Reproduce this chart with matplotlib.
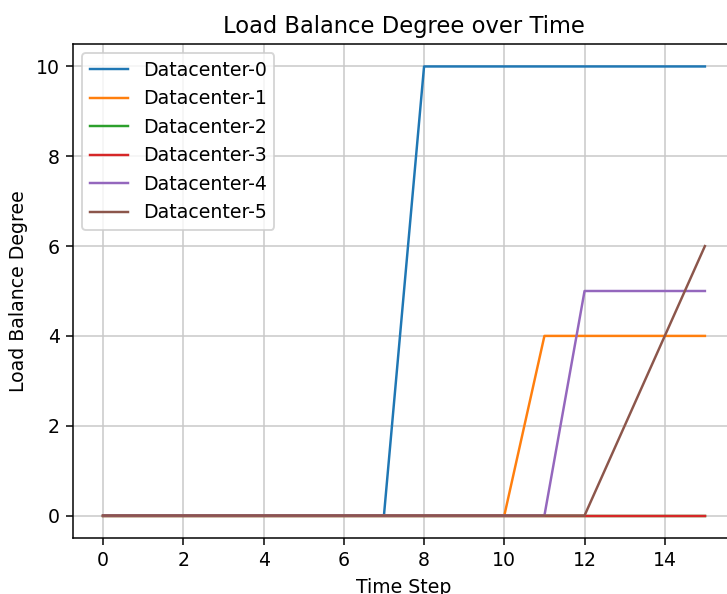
import numpy as np
import matplotlib.pyplot as plt

time_steps = list(range(16))
dc0 = [0, 0, 0, 0, 0, 0, 0, 0, 10, 10, 10, 10, 10, 10, 10, 10]
dc1 = [0, 0, 0, 0, 0, 0, 0, 0, 0, 0, 0, 4, 4, 4, 4, 4]
dc2 = [0] * 16
dc3 = [0] * 16
dc4 = [0, 0, 0, 0, 0, 0, 0, 0, 0, 0, 0, 0, 5, 5, 5, 5]
dc5 = [0, 0, 0, 0, 0, 0, 0, 0, 0, 0, 0, 0, 0, 2, 4, 6]
series = [dc0, dc1, dc2, dc3, dc4, dc5]
names = [f"Datacenter-{i}" for i in range(6)]

dpi = 136
W, H = 727, 594
fig = plt.figure(figsize=(W / dpi, H / dpi), dpi=dpi)
# axes spill past the right edge, like the cropped original
ax = fig.add_axes([73 / W, 56 / H, 662 / W, 494 / H])

for vals, name in zip(series, names):
    ax.plot(time_steps, vals, label=name, linewidth=1.3)

ax.set_xlim(-0.75, 15.75)
ax.set_ylim(-0.5, 10.5)
ax.set_xticks([0, 2, 4, 6, 8, 10, 12, 14])
ax.set_title("Load Balance Degree over Time")
ax.set_xlabel("Time Step")
ax.set_ylabel("Load Balance Degree")
ax.grid(True, color="#c8c8c8")
ax.legend(loc="upper left")

fig.savefig("out.png", dpi=dpi)
